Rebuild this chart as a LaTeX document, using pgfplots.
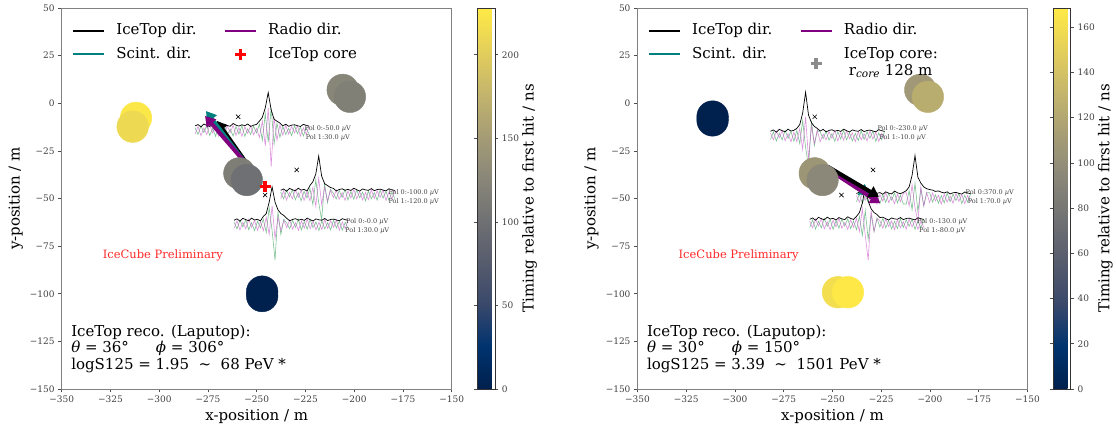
\documentclass[border=0pt]{standalone}
\usepackage{fontspec}
\setmainfont{DejaVu Serif}
\usepackage{pgfplots}
\pgfplotsset{compat=1.18}
\usepackage{pgfplotstable}
\usetikzlibrary{arrows.meta}

\pgfplotsset{colormap={cividis}{rgb255=(0,32,77) rgb255=(0,51,111) rgb255=(57,72,107) rgb255=(87,92,109) rgb255=(112,113,115) rgb255=(138,135,121) rgb255=(166,157,117) rgb255=(196,181,108) rgb255=(228,207,91) rgb255=(255,234,70)}}

\definecolor{tracegreen}{RGB}{70,165,100}
\definecolor{tracepink}{RGB}{205,100,205}
\definecolor{scintteal}{RGB}{0,128,128}
\definecolor{radiopurple}{RGB}{128,0,128}
\definecolor{prelimred}{RGB}{255,40,40}

% ---------- radio traces (local time offset t in m, amplitudes in m) ----------
\pgfplotstableread{
t g p b
0.0 1.5 -1.8 2.5
1.5 -2.0 2.2 3.2
3.0 2.5 -2.6 2.0
4.5 -1.0 1.4 3.5
6.0 2.8 -2.0 2.8
7.5 -2.5 3.0 2.2
9.0 1.2 -1.2 3.6
10.5 -3.0 2.4 2.6
12.0 2.0 -2.8 3.0
13.5 -1.5 1.8 2.1
15.0 3.0 -2.2 3.4
16.5 -2.2 2.6 2.7
18.0 0.8 -1.0 2.3
19.5 -2.8 2.8 3.8
21.0 2.2 -2.4 2.9
22.5 -1.8 1.6 2.4
24.0 2.6 -3.0 3.1
25.5 -3.0 2.0 2.6
27.0 1.0 -1.4 3.5
28.5 -2.0 2.6 2.2
30.0 2.4 -2.2 2.9
31.5 -1.2 1.2 3.3
33.0 3.5 -3.5 5
34.5 -5 5 7
36.0 9 -8 12
37.5 -6 12 20
39.0 12 -19 11
40.5 -7 7 6
42.0 4 -5 5
43.5 -3.5 3 4
45.0 2.2 -2.4 2.5
46.5 -2.0 2.8 3.4
48.0 1.2 -1.8 2.3
49.5 -2.6 2.2 2.9
51.0 2.6 -1.2 3.1
52.5 -1.6 2.6 2.6
54.0 2.0 -2.8 2.2
55.5 -2.8 1.6 3.3
57.0 1.4 -2.0 2.8
58.5 -1.8 2.4 2.4
}\stLA

\pgfplotstableread{
t g p b
0.0 1.5 -1.8 2.5
1.5 -2.0 2.2 3.2
3.0 2.5 -2.6 2.0
4.5 -1.0 1.4 3.5
6.0 2.8 -2.0 2.8
7.5 -2.5 3.0 2.2
9.0 1.2 -1.2 3.6
10.5 -3.0 2.4 2.6
12.0 2.0 -2.8 3.0
13.5 -1.5 1.8 2.1
15.0 3.5 -3 5
16.5 -5 4 7
18.0 8 -6 11
19.5 -4 9 20.5
21.0 -13 -5 10
22.5 6 4 6
24.0 -4 -3 5
25.5 3 2.5 4
27.0 1.0 -1.4 3.5
28.5 -2.0 2.6 2.2
30.0 2.4 -2.2 2.9
31.5 -1.2 1.2 3.3
33.0 3.0 -2.8 2.5
34.5 -2.6 2.2 3.0
36.0 1.8 -1.6 2.4
37.5 -2.2 3.0 3.6
39.0 2.8 -2.0 2.8
40.5 -1.4 1.8 2.1
42.0 1.6 -2.6 3.2
43.5 -3.0 1.4 2.7
45.0 2.2 -2.4 2.5
46.5 -2.0 2.8 3.4
48.0 1.2 -1.8 2.3
49.5 -2.6 2.2 2.9
51.0 2.6 -1.2 3.1
52.5 -1.6 2.6 2.6
54.0 2.0 -2.8 2.2
55.5 -2.8 1.6 3.3
57.0 1.4 -2.0 2.8
58.5 -1.8 2.4 2.4
}\stLB

\pgfplotstableread{
t g p b
0.0 1.5 -1.8 2.5
1.5 -2.0 2.2 3.2
3.0 2.5 -2.6 2.0
4.5 -1.0 1.4 3.5
6.0 2.8 -2.0 2.8
7.5 -2.5 3.0 2.2
9.0 1.2 -1.2 3.6
10.5 -3.0 2.4 2.6
12.0 2.0 -2.8 3.0
13.5 -1.5 1.8 2.1
15.0 3 -3 4.5
16.5 -4 4 6
18.0 9 -5 12
19.5 -3 10 20
21.0 -18.5 -7 12
22.5 7 4 8
24.0 -5 -3 6
25.5 3 2.5 5
27.0 1.0 -1.4 3.5
28.5 -2.0 2.6 2.2
30.0 2.4 -2.2 2.9
31.5 -1.2 1.2 3.3
33.0 3.0 -2.8 2.5
34.5 -2.6 2.2 3.0
36.0 1.8 -1.6 2.4
37.5 -2.2 3.0 3.6
39.0 2.8 -2.0 2.8
40.5 -1.4 1.8 2.1
42.0 1.6 -2.6 3.2
43.5 -3.0 1.4 2.7
45.0 2.2 -2.4 2.5
46.5 -2.0 2.8 3.4
48.0 1.2 -1.8 2.3
49.5 -2.6 2.2 2.9
51.0 2.6 -1.2 3.1
52.5 -1.6 2.6 2.6
54.0 2.0 -2.8 2.2
55.5 -2.8 1.6 3.3
57.0 1.4 -2.0 2.8
58.5 -1.8 2.4 2.4
}\stLC

\pgfplotstableread{
t g p b
0.0 -1.8 1.5 2.5
1.5 2.2 -2.0 3.2
3.0 -2.6 2.5 2.0
4.5 1.4 -1.0 3.5
6.0 -2.0 2.8 2.8
7.5 3.0 -2.5 2.2
9.0 -1.2 1.2 3.6
10.5 2.4 -3.0 2.6
12.0 -2.8 2.0 3.0
13.5 3 -3 4
15.0 -4 4 6
16.5 8 -7 12
18.0 -6 10 23
19.5 -16 -12 11
21.0 8 5 7
22.5 -5 -4 5
24.0 3 3 4
25.5 2.0 -3.0 2.6
27.0 -1.4 1.0 3.5
28.5 2.6 -2.0 2.2
30.0 -2.2 2.4 2.9
31.5 1.2 -1.2 3.3
33.0 -2.8 3.0 2.5
34.5 2.2 -2.6 3.0
36.0 -1.6 1.8 2.4
37.5 3.0 -2.2 3.6
39.0 -2.0 2.8 2.8
40.5 1.8 -1.4 2.1
42.0 -2.6 1.6 3.2
43.5 1.4 -3.0 2.7
45.0 -2.4 2.2 2.5
46.5 2.8 -2.0 3.4
48.0 -1.8 1.2 2.3
49.5 2.2 -2.6 2.9
51.0 -1.2 2.6 3.1
52.5 2.6 -1.6 2.6
54.0 -2.8 2.0 2.2
55.5 1.6 -2.8 3.3
57.0 -2.0 1.4 2.8
58.5 2.4 -1.8 2.4
}\stRA

\pgfplotstableread{
t g p b
0.0 -1.8 1.5 2.5
1.5 2.2 -2.0 3.2
3.0 -2.6 2.5 2.0
4.5 1.4 -1.0 3.5
6.0 -2.0 2.8 2.8
7.5 3.0 -2.5 2.2
9.0 -1.2 1.2 3.6
10.5 2.4 -3.0 2.6
12.0 -2.8 2.0 3.0
13.5 1.8 -1.5 2.1
15.0 -2.2 3.0 3.4
16.5 2.6 -2.2 2.7
18.0 -1.0 0.8 2.3
19.5 2.8 -2.8 3.8
21.0 -2.4 2.2 2.9
22.5 1.6 -1.8 2.4
24.0 -3.0 2.6 3.1
25.5 -3 3 4
27.0 4 -4 6
28.5 -6 7 12
30.0 8 -5 22.4
31.5 -7 -12.3 11
33.0 5 6 8
34.5 -4 -4 6
36.0 3 3 5
37.5 3.0 -2.2 4.6
39.0 -2.0 2.8 4.3
40.5 1.8 -1.4 3.6
42.0 -2.6 1.6 3.9
43.5 1.4 -3.0 3.2
45.0 -2.4 2.2 2.8
46.5 2.8 -2.0 3.4
48.0 -1.8 1.2 2.3
49.5 2.2 -2.6 2.9
51.0 -1.2 2.6 3.1
52.5 2.6 -1.6 2.6
54.0 -2.8 2.0 2.2
55.5 1.6 -2.8 3.3
57.0 -2.0 1.4 2.8
58.5 2.4 -1.8 2.4
}\stRB

\pgfplotstableread{
t g p b
0.0 -1.8 1.5 2.5
1.5 2.2 -2.0 3.2
3.0 -2.6 2.5 2.0
4.5 1.4 -1.0 3.5
6.0 -2.0 2.8 2.8
7.5 3.0 -2.5 2.2
9.0 -1.2 1.2 3.6
10.5 2.4 -3.0 2.6
12.0 -2.8 2.0 3.0
13.5 1.8 -1.5 2.1
15.0 -2.2 3.0 3.4
16.5 2.6 -2.2 2.7
18.0 -1.0 0.8 2.3
19.5 2.8 -2.8 3.8
21.0 -2.4 2.2 2.9
22.5 1.6 -1.8 2.4
24.0 -3 3 4
25.5 4 -4 6
27.0 -6 8 11
28.5 7 -6 19.4
30.0 -8 -19 12
31.5 5 7 8
33.0 -4 -4 6
34.5 3 3 5
36.0 -1.6 1.8 3.4
37.5 3.0 -2.2 3.6
39.0 -2.0 2.8 2.8
40.5 1.8 -1.4 2.1
42.0 -2.6 1.6 3.2
43.5 1.4 -3.0 2.7
45.0 -2.4 2.2 2.5
46.5 2.8 -2.0 3.4
48.0 -1.8 1.2 2.3
49.5 2.2 -2.6 2.9
51.0 -1.2 2.6 3.1
52.5 2.6 -1.6 2.6
54.0 -2.8 2.0 2.2
55.5 1.6 -2.8 3.3
57.0 -2.0 1.4 2.8
58.5 2.4 -1.8 2.4
}\stRC

\tikzset{
  poltext/.style={anchor=west, align=center, font=\fontsize{6.5}{9}\selectfont, text=black!75, inner sep=0pt},
  recotext/.style={anchor=base west, inner sep=0pt, font=\fontsize{15}{17}\selectfont},
}

\pgfplotsset{
  panel/.style={
    scale only axis, width=390pt, height=381pt, anchor=south west,
    xmin=-350, xmax=-150, ymin=-150, ymax=50, clip=false,
    xtick={-350,-325,-300,-275,-250,-225,-200,-175,-150},
    xticklabels={−350,−325,−300,−275,−250,−225,−200,−175,−150},
    ytick={-150,-125,-100,-75,-50,-25,0,25,50},
    yticklabels={−150,−125,−100,−75,−50,−25,0,25,50},
    tick align=outside, xtick pos=left, ytick pos=left,
    major tick length=3.5pt,
    tick style={black!70, line width=0.6pt},
    ticklabel style={font=\fontsize{9}{10}\selectfont, text=black!75},
    axis line style={black!50, line width=0.7pt},
    xlabel={x-position / m}, ylabel={y-position / m},
    label style={font=\fontsize{15}{17}\selectfont},
    xlabel style={at={(axis description cs:0.5,-0.0735)}, anchor=center},
    ylabel style={at={(axis description cs:-0.118,0.5)}, anchor=center},
    colormap name=cividis, colorbar,
    legend columns=2,
    legend style={at={(axis description cs:0,1)}, anchor=north west,
      xshift=10.3pt, yshift=-15.4pt, draw=none, fill=none, inner sep=0pt,
      font=\fontsize{15}{17.3}\selectfont, row sep=8.4pt,
      legend cell align=left,
      nodes={inner sep=0pt, text height=11.4pt, text depth=3.6pt}},
  },
  cbar/.style={
    colorbar style={
      at={(parent axis.north east)}, anchor=north west, xshift=17.3pt,
      width=17.3pt,
      tick align=outside, major tick length=3.5pt,
      tick style={black!70, line width=0.6pt},
      yticklabel style={font=\fontsize{9}{10}\selectfont, text=black!75},
      axis line style={black!80, line width=0.6pt},
      ylabel={Timing relative to first hit / ns},
      ylabel style={font=\fontsize{15}{17}\selectfont, at={(axis description cs:3.006,0.5)}, anchor=center},
      #1
    }
  },
  stations/.style={scatter, only marks, mark=*, mark size=15.8pt, point meta=explicit,
    scatter/use mapped color={draw=mapped color, fill=mapped color}, forget plot},
  trg/.style={tracegreen, opacity=0.7, line width=0.6pt, forget plot},
  trp/.style={tracepink, opacity=0.7, line width=0.6pt, forget plot},
  trb/.style={black, line width=0.7pt, forget plot},
  dirarrow/.style={line width=4pt, -{Triangle[length=10pt,width=12pt]}, forget plot},
}

\newcommand{\lineimg}[1]{\addlegendimage{legend image code/.code={\draw[#1,line width=2pt] (0pt,0pt)--(31pt,0pt); \path (0pt,0pt) (43pt,0pt);}}}

\begin{document}
\begin{tikzpicture}
\useasboundingbox (0,0) rectangle (1116pt,430pt);

% ================= left panel =================
\begin{axis}[panel, at={(61.7pt,41pt)},
  point meta min=0, point meta max=228,
  cbar={ytick={0,50,100,150,200}, yticklabels={0,50,100,150,200}}]

\addplot[stations] coordinates {
 (-311.9,-7.7) [225] (-313.6,-12.3) [212]
 (-205.9,7.0) [125] (-202.2,3.4) [118]
 (-258.9,-36.8) [116] (-255.1,-40.3) [100]
 (-247.2,-98.9) [0] (-247.2,-101.2) [0]
};

\addplot[trg] table[x expr=\thisrow{t}-281.6, y expr=\thisrow{g}-14.4]{\stLA};
\addplot[trp] table[x expr=\thisrow{t}-281.6, y expr=\thisrow{p}-14.4]{\stLA};
\addplot[trb] table[x expr=\thisrow{t}-281.6, y expr=\thisrow{b}-14.4]{\stLA};
\addplot[trg] table[x expr=\thisrow{t}-237.7, y expr=\thisrow{g}-48.2]{\stLB};
\addplot[trp] table[x expr=\thisrow{t}-237.7, y expr=\thisrow{p}-48.2]{\stLB};
\addplot[trb] table[x expr=\thisrow{t}-237.7, y expr=\thisrow{b}-48.2]{\stLB};
\addplot[trg] table[x expr=\thisrow{t}-261.6, y expr=\thisrow{g}-63.9]{\stLC};
\addplot[trp] table[x expr=\thisrow{t}-261.6, y expr=\thisrow{p}-63.9]{\stLC};
\addplot[trb] table[x expr=\thisrow{t}-261.6, y expr=\thisrow{b}-63.9]{\stLC};

\addplot[dirarrow, black] coordinates {(-253.4,-34.1) (-270.5,-9.2)};
\addplot[dirarrow, scintteal] coordinates {(-254.5,-33.2) (-276,-4.1)};
\addplot[dirarrow, radiopurple] coordinates {(-253.4,-34.1) (-276.5,-6.7)};

\addplot[only marks, mark=x, mark size=3pt, black, line width=0.6pt, forget plot]
  coordinates {(-259.5,-7.1) (-229.5,-35) (-245.7,-48.2)};
\addplot[only marks, mark=+, mark size=5.5pt, red, line width=3.5pt, forget plot]
  coordinates {(-245.7,-43.8)};

\node[poltext] at (axis cs:-225.5,-15.9) {Pol 0:-50.0 {\itshape µ}V\\Pol 1:30.0 {\itshape µ}V};
\node[poltext] at (axis cs:-182.5,-49.3) {Pol 0:-100.0 {\itshape µ}V\\Pol 1:-120.0 {\itshape µ}V};
\node[poltext] at (axis cs:-204.7,-64.6) {Pol 0:-0.0 {\itshape µ}V\\Pol 1:30.0 {\itshape µ}V};

\node[font=\fontsize{11.5}{13}\selectfont, text=prelimred] at (axis cs:-298.1,-79.7) {IceCube Preliminary};

\node[recotext] at (axis cs:-345.2,-122.2) {IceTop reco. (Laputop):};
\node[recotext] at (axis cs:-345.2,-130.9) {{\itshape θ} = 36°\hspace*{27pt}{\itshape ϕ} = 306°};
\node[recotext] at (axis cs:-345.2,-140) {logS125 = 1.95\ \ \textasciitilde\ \ 68 PeV *};

\lineimg{black}
\addlegendentry{\makebox[107.5pt][l]{IceTop dir.}}
\lineimg{radiopurple}
\addlegendentry{Radio dir.}
\lineimg{scintteal}
\addlegendentry{\makebox[107.5pt][l]{Scint. dir.}}
\addlegendimage{legend image code/.code={\draw[red,line width=3.5pt] (10pt,0pt)--(21pt,0pt) (15.5pt,-5.5pt)--(15.5pt,5.5pt); \path (0pt,0pt) (43pt,0pt);}}
\addlegendentry{IceTop core}
\end{axis}

% ================= right panel =================
\begin{axis}[panel, at={(637.5pt,41pt)},
  point meta min=0, point meta max=168.5,
  cbar={ytick={0,20,40,60,80,100,120,140,160}, yticklabels={0,20,40,60,80,100,120,140,160}}]

\addplot[stations] coordinates {
 (-311.5,-7) [0] (-311.5,-9) [0]
 (-205,7) [108] (-201.1,3.4) [124]
 (-259.1,-36.8) [106] (-255.1,-40.3) [94]
 (-247.2,-99.2) [160] (-242.1,-99.2) [167]
};

\addplot[trg] table[x expr=\thisrow{t}-281.8, y expr=\thisrow{g}-17.2]{\stRA};
\addplot[trp] table[x expr=\thisrow{t}-281.8, y expr=\thisrow{p}-17.2]{\stRA};
\addplot[trb] table[x expr=\thisrow{t}-281.8, y expr=\thisrow{b}-17.2]{\stRA};
\addplot[trg] table[x expr=\thisrow{t}-237.7, y expr=\thisrow{g}-49.9]{\stRB};
\addplot[trp] table[x expr=\thisrow{t}-237.7, y expr=\thisrow{p}-49.9]{\stRB};
\addplot[trb] table[x expr=\thisrow{t}-237.7, y expr=\thisrow{b}-49.9]{\stRB};
\addplot[trg] table[x expr=\thisrow{t}-261.7, y expr=\thisrow{g}-63.4]{\stRC};
\addplot[trp] table[x expr=\thisrow{t}-261.7, y expr=\thisrow{p}-63.4]{\stRC};
\addplot[trb] table[x expr=\thisrow{t}-261.7, y expr=\thisrow{b}-63.4]{\stRC};

\addplot[dirarrow, scintteal] coordinates {(-253.1,-33.8) (-231,-48)};
\addplot[dirarrow, radiopurple] coordinates {(-253.1,-34.1) (-225.5,-52.5)};
\addplot[dirarrow, black] coordinates {(-252.6,-33.2) (-226.2,-49.1)};

\addplot[only marks, mark=x, mark size=3pt, black, line width=0.6pt, forget plot]
  coordinates {(-259.1,-7.1) (-229.2,-35) (-245.4,-48.2)};

\node[poltext] at (axis cs:-227,-15.8) {Pol 0:-230.0 {\itshape µ}V\\Pol 1:-10.0 {\itshape µ}V};
\node[poltext] at (axis cs:-181.8,-49.3) {Pol 0:370.0 {\itshape µ}V\\Pol 1:70.0 {\itshape µ}V};
\node[poltext] at (axis cs:-206.7,-64.6) {Pol 0:-130.0 {\itshape µ}V\\Pol 1:-80.0 {\itshape µ}V};

\node[font=\fontsize{11.5}{13}\selectfont, text=prelimred] at (axis cs:-298.1,-79.7) {IceCube Preliminary};

\node[recotext] at (axis cs:-345.2,-122.2) {IceTop reco. (Laputop):};
\node[recotext] at (axis cs:-345.2,-130.9) {{\itshape θ} = 30°\hspace*{27pt}{\itshape ϕ} = 150°};
\node[recotext] at (axis cs:-345.2,-140) {logS125 = 3.39\ \ \textasciitilde\ \ 1501 PeV *};

\lineimg{black}
\addlegendentry{\makebox[107.5pt][l]{IceTop dir.}}
\lineimg{radiopurple}
\addlegendentry{Radio dir.}
\lineimg{scintteal}
\addlegendentry{\makebox[107.5pt][l]{Scint. dir.}}
\addlegendimage{legend image code/.code={\draw[gray!90,line width=3.5pt] (10pt,-8.9pt)--(21pt,-8.9pt) (15.5pt,-14.4pt)--(15.5pt,-3.4pt); \path (0pt,0pt) (43pt,0pt);}}
\addlegendentry{\begin{tabular}[t]{@{}l@{}}IceTop core:\\\hspace*{5pt}r\textsubscript{\textit{core}} 128 m\end{tabular}}
\end{axis}
\end{tikzpicture}
\end{document}
